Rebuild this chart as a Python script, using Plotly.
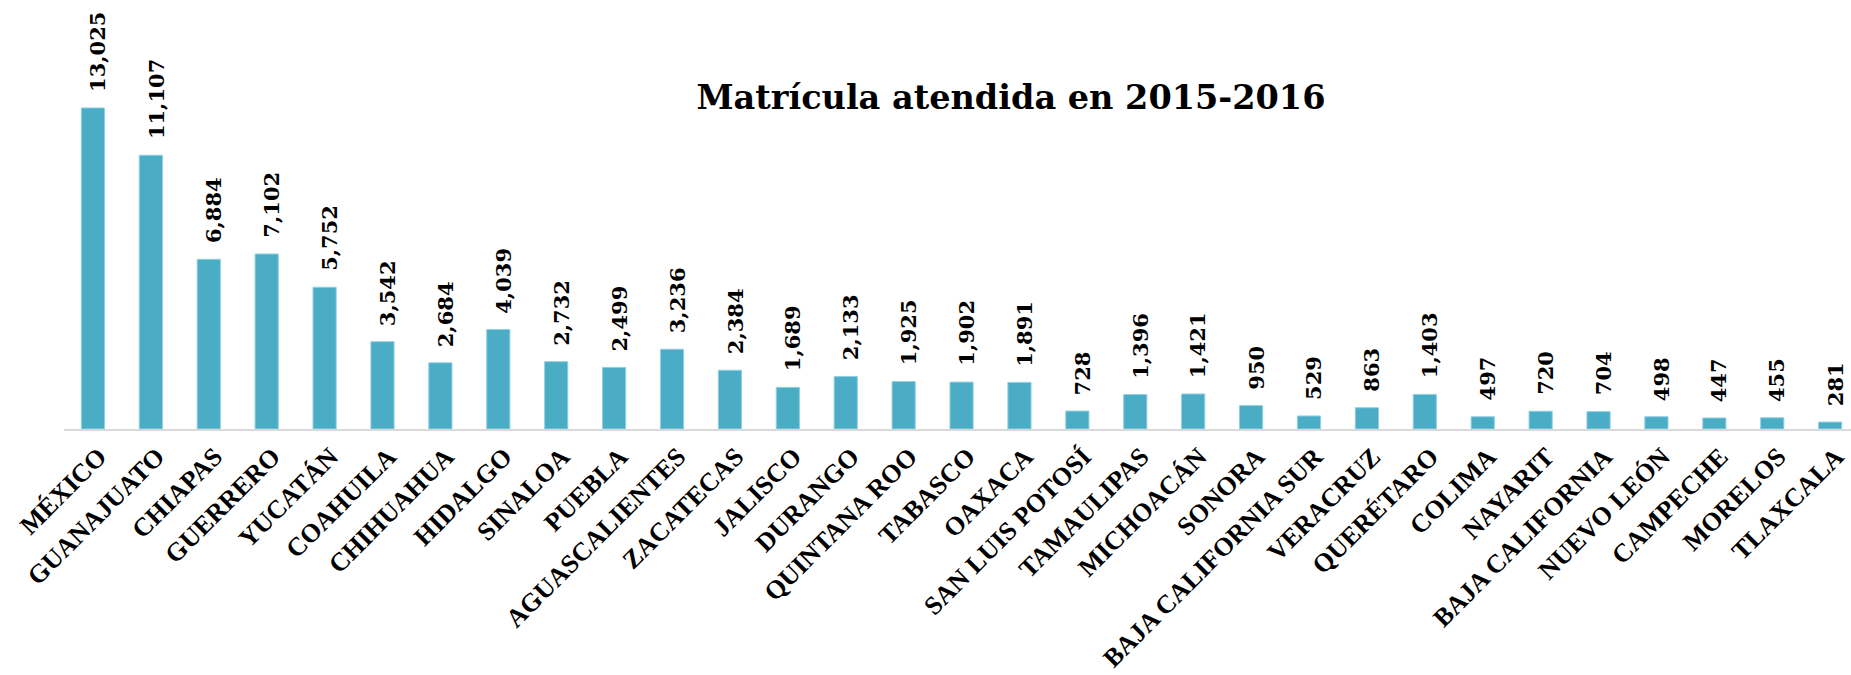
import plotly.graph_objects as go

estados = ["MÉXICO", "GUANAJUATO", "CHIAPAS", "GUERRERO", "YUCATÁN", "COAHUILA",
           "CHIHUAHUA", "HIDALGO", "SINALOA", "PUEBLA", "AGUASCALIENTES", "ZACATECAS",
           "JALISCO", "DURANGO", "QUINTANA ROO", "TABASCO", "OAXACA", "SAN LUIS POTOSÍ",
           "TAMAULIPAS", "MICHOACÁN", "SONORA", "BAJA CALIFORNIA SUR", "VERACRUZ",
           "QUERÉTARO", "COLIMA", "NAYARIT", "BAJA CALIFORNIA", "NUEVO LEÓN",
           "CAMPECHE", "MORELOS", "TLAXCALA"]
matricula = [13025, 11107, 6884, 7102, 5752, 3542, 2684, 4039, 2732, 2499, 3236, 2384,
             1689, 2133, 1925, 1902, 1891, 728, 1396, 1421, 950, 529, 863, 1403, 497,
             720, 704, 498, 447, 455, 281]
titulo = "Matrícula atendida en 2015-2016"

BAR_COLOR = "#4BACC6"

fig = go.Figure()
fig.add_trace(go.Bar(
    x=estados, y=matricula,
    marker=dict(color=BAR_COLOR, line=dict(color="#8fd0e0", width=1)),
    hoverinfo="x+y",
))

for e, v in zip(estados, matricula):
    fig.add_annotation(
        x=e, y=v, text=f"{v:,}", textangle=-90, showarrow=False,
        xanchor="center", yanchor="bottom", yshift=14, xshift=5,
        font=dict(family="DejaVu Serif", size=21, color="#000000", weight="bold"),
    )

fig.update_layout(
    width=1851, height=675,
    margin=dict(l=64, r=0, t=10, b=246, autoexpand=False),
    paper_bgcolor="white", plot_bgcolor="white",
    bargap=0.6, showlegend=False,
    title=dict(text=f"<b>{titulo}</b>", x=1011 / 1851, xanchor="center",
               yref="container", y=1 - 97 / 675, yanchor="middle", automargin=False,
               font=dict(family="DejaVu Serif", size=33.5, color="#000000")),
    xaxis=dict(range=[-0.5, 30.36], showline=True, linecolor="#D9D9D9", linewidth=2,
               ticks="", tickangle=-45, showgrid=False, automargin=False,
               ticklabelshift=6,
               tickfont=dict(family="Liberation Serif", size=26, color="#000000", weight="bold")),
    yaxis=dict(range=[0, 17000], visible=False, showgrid=False, automargin=False),
)

fig.write_html("out.html", config={"displayModeBar": False},
               post_script="document.body.style.margin='0';document.body.style.overflow='hidden';")
